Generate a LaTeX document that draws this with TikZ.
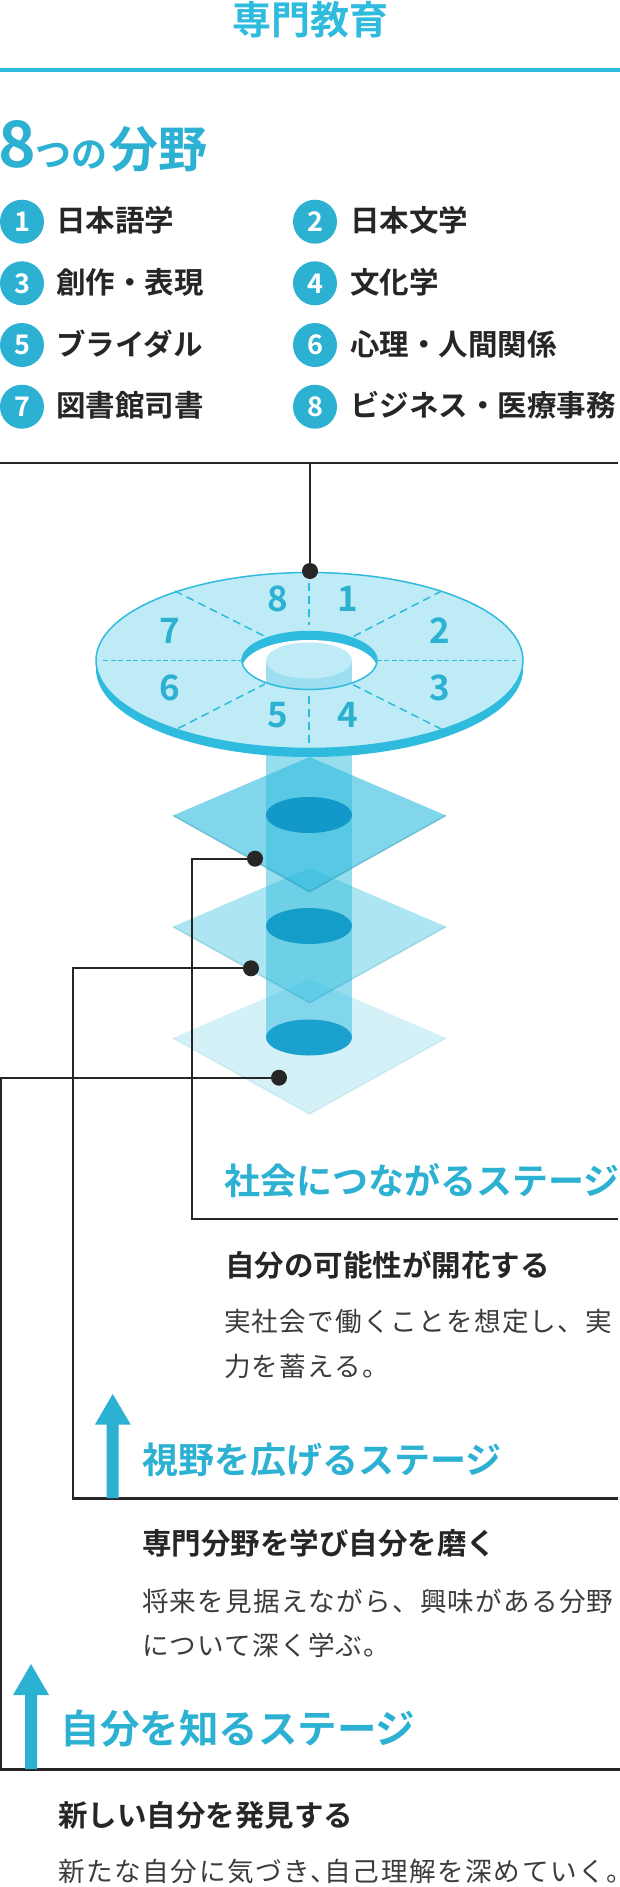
\documentclass[tikz,border=0pt]{standalone}
\usepackage{fontspec}
\setmainfont{Noto Sans CJK JP}
\newfontfamily\jpm{Noto Sans CJK JP Medium}
\newfontfamily\jpb{Noto Sans CJK JP Bold}
\definecolor{rim}{HTML}{2EBBDD}
\definecolor{teal}{HTML}{2DB1D2}
\definecolor{discfill}{HTML}{BFEBF6}
\definecolor{body}{HTML}{9DDFF0}
\definecolor{ink}{HTML}{262626}
\definecolor{edge}{HTML}{1A8FB0}
\definecolor{eA}{HTML}{1298C9}
\definecolor{eB}{HTML}{159DCA}
\definecolor{eC}{HTML}{1BA1CF}
\newcommand{\fs}[1]{\fontsize{#1}{#1}\selectfont}
\tikzset{
  listtxt/.style={inner sep=0,anchor=west,text=ink,font=\jpb\fs{29.5},text height=26pt,text depth=3.5pt},
  stagetxt/.style={inner sep=0,anchor=west,text=teal,font=\jpb\fs{36},text height=31.7pt,text depth=4.3pt},
  stagetxtb/.style={stagetxt,font=\jpb\fs{39.5},text height=34.8pt,text depth=4.7pt},
  subtxt/.style={inner sep=0,anchor=west,text=ink,font=\jpb\fs{29.5},text height=26pt,text depth=3.5pt},
  bodytxt/.style={inner sep=0,anchor=west,text=ink!90!white,font=\fs{26.6}\addfontfeature{LetterSpace=4.5},text height=23.4pt,text depth=3.2pt},
  numc/.style={circle,fill=teal,text=white,inner sep=0,minimum size=44pt,font=\jpb\fs{27}},
  discnum/.style={inner sep=0,text=teal,font=\jpb\fs{35}},
  dot/.style={circle,fill=ink,inner sep=0,minimum size=16pt},
  lead/.style={draw=ink,line width=2.2pt,line join=miter},
  sector/.style={draw=rim,line width=1.5pt,dash pattern=on 8pt off 5pt},
  sectorh/.style={draw=rim,line width=1.2pt,dash pattern=on 5pt off 2.5pt},
  stagearrow/.style={fill=teal,draw=none}
}
\begin{document}
\begin{tikzpicture}[x=1pt,y=-1pt]
\useasboundingbox (0,0) rectangle (620,1887);
\node[inner sep=0,text=rim,font=\jpb\fs{39},text height=34.3pt,text depth=4.7pt] (title) at (310,20) {専門教育};
\fill[rim] (0,68) rectangle (620,72);
\node[inner sep=0,anchor=base west,text=teal,font=\jpb] (heading) at (-2,167) {\fs{64}8\fs{36}つの\hspace{2pt}\fs{49}分野};
% list
\node[numc] (n1) at (22,221.7) {1}; \node[listtxt] (t1) at (56,220.5) {日本語学};
\node[numc] (n2) at (315,221.7) {2}; \node[listtxt] (t2) at (350,220.5) {日本文学};
\node[numc] (n3) at (22,283.3) {3}; \node[listtxt] (t3) at (56,282) {創作・表現};
\node[numc] (n4) at (315,283.3) {4}; \node[listtxt] (t4) at (350,282) {文化学};
\node[numc] (n5) at (22,345) {5}; \node[listtxt] (t5) at (56,344) {ブライダル};
\node[numc] (n6) at (315,345) {6}; \node[listtxt] (t6) at (350,344) {心理・人間関係};
\node[numc] (n7) at (22,406.7) {7}; \node[listtxt] (t7) at (56,405.5) {図書館司書};
\node[numc] (n8) at (315,406.7) {8}; \node[listtxt] (t8) at (350,405.5) {ビジネス・医療事務};
% bottom diamond
\fill[rim,opacity=.2] (173,1038) -- (309.5,979) -- (446,1038) -- (309.5,1114) -- cycle;
\draw[edge,opacity=.12,line width=1.5pt] (173,1038) -- (309.5,1114) -- (446,1038);
% column
\fill[rim,opacity=.5] (266,745) rectangle (352,1037);
\fill[rim,opacity=.39] (173,926.7) -- (309.5,868) -- (446,926.7) -- (309.5,1002.7) -- cycle;
\draw[edge,opacity=.25,line width=1.5pt] (173,926.7) -- (309.5,1002.7) -- (446,926.7);
\fill[rim,opacity=.6] (173,815.5) -- (309.5,757) -- (446,815.5) -- (309.5,891.7) -- cycle;
\draw[edge,opacity=.4,line width=1.5pt] (173,815.5) -- (309.5,891.7) -- (446,815.5);
\fill[eA] (309,815) ellipse [x radius=43pt,y radius=18pt];
\fill[eB] (309,926) ellipse [x radius=43pt,y radius=18pt];
\fill[eC] (309,1037.5) ellipse [x radius=43pt,y radius=18pt];
% disc
\fill[rim] (309.5,669) ellipse [x radius=213.5pt,y radius=88pt];
\fill[rim] (96,660.5) rectangle (523,669);
\filldraw[fill=discfill,draw=rim,line width=1.5pt] (309.5,660.5) ellipse [x radius=213.5pt,y radius=88pt];
\fill[rim] (309.5,660.5) ellipse [x radius=67.5pt,y radius=29pt];
\begin{scope}
\clip (309.5,660.5) ellipse [x radius=67.5pt,y radius=29pt];
\clip (309.5,669) ellipse [x radius=67.5pt,y radius=29pt];
\fill[white] (240,630) rectangle (380,695);
\fill[body] (266,660.5) rectangle (352.3,695);
\fill[discfill] (309,660.5) ellipse [x radius=43pt,y radius=18pt];
\end{scope}
\draw[rim,line width=1.5pt] (309.5,660.5) ellipse [x radius=67.5pt,y radius=29pt];
\draw[sector] (309,583) -- (309,625);
\draw[sector] (309,696) -- (309,748);
\draw[sectorh] (103,660.7) -- (241.7,660.7);
\draw[sectorh] (376.7,660.7) -- (516,660.7);
\draw[sector] (175,591) -- (266.7,637.3);
\draw[sector] (441.7,591) -- (351.7,637.3);
\draw[sector] (178.3,728.3) -- (265,684);
\draw[sector] (441.7,729.3) -- (351.7,684);
\node[discnum] (d8) at (277.5,599) {8};
\node[discnum] (d1) at (347.5,599) {1};
\node[discnum] (d2) at (440,630.7) {2};
\node[discnum] (d7) at (169.8,630.7) {7};
\node[discnum] (d6) at (169.8,687.7) {6};
\node[discnum] (d3) at (440,687.7) {3};
\node[discnum] (d5) at (277.5,715) {5};
\node[discnum] (d4) at (347.5,715) {4};
% leader rule
\coordinate (ruleL) at (0,463.3);
\coordinate (ruleR) at (618,463.3);
\coordinate (ruleM) at (310,463.3);
\draw[lead] (ruleL) -- (ruleR);
\node[dot] (top) at (310,571) {};
\draw[lead] (ruleM) -- (top.center);
% leaders
\node[dot] (p1) at (255,858.7) {};
\node[dot] (p2) at (251,968.3) {};
\node[dot] (p3) at (279,1077.7) {};
\coordinate (e1) at (618,1219.3);
\coordinate (e2) at (618,1498.4);
\coordinate (e3) at (620,1769.4);
\coordinate (k1) at (192,1219.3);
\coordinate (k2) at (72.8,1498.4);
\coordinate (k3) at (1.2,1769.4);
\draw[lead] (p1.center) -| (k1) -- (e1);
\draw[lead] (p2.center) -| (k2) -- (e2);
\draw[lead] (p3.center) -| (k3) -- (e3);
\coordinate (e3l) at (0,1769.4);
\draw[lead] (e3l) -- (k3);
% stage texts
\node[stagetxt] (s1) at (224,1180.5) {社会につながるステージ};
\node[subtxt] (h1) at (225,1265) {自分の可能性が開花する};
\node[bodytxt] (b1a) at (224,1321.5) {実社会で働くことを想定し、実};
\node[bodytxt] (b1b) at (224,1366.5) {力を蓄える。};
\fill[stagearrow] (112.7,1394) -- (130.7,1424.5) -- (118.7,1424.5) -- (118.7,1498) -- (106.7,1498) -- (106.7,1424.5) -- (95,1424.5) -- cycle;
\node[stagetxt] (s2) at (142,1459.5) {視野を広げるステージ};
\node[subtxt] (h2) at (142,1543.5) {専門分野を学び自分を磨く};
\node[bodytxt] (b2a) at (142,1601) {将来を見据えながら、興味がある分野};
\node[bodytxt] (b2b) at (142,1645) {について深く学ぶ。};
\fill[stagearrow] (31,1664) -- (49,1695) -- (37,1695) -- (37,1769) -- (25,1769) -- (25,1695) -- (13,1695) -- cycle;
\node[stagetxtb] (s3) at (60.5,1728.5) {自分を知るステージ};
\node[subtxt] (h3) at (58,1815) {新しい自分を発見する};
\node[bodytxt] (b3) at (58,1871.5) {\addfontfeature{LetterSpace=6}新たな自分に気づき、\hspace{-12pt}自己理解を深めていく。};
\end{tikzpicture}
\end{document}
